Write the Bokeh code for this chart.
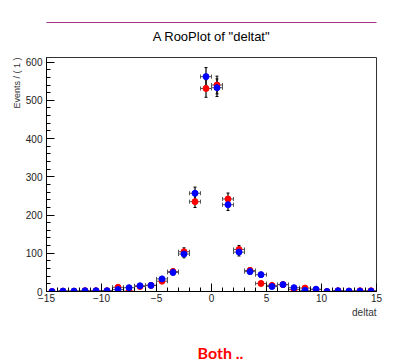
import numpy as np
from bokeh.plotting import figure
from bokeh.models import (ColumnDataSource, Whisker, TeeHead, Title, LinearAxis,
                          SingleIntervalTicker, FixedTicker, Range1d)
from bokeh.embed import file_html
from bokeh.resources import INLINE

# ---- data -------------------------------------------------------------
bin_centers = [-14.5, -13.5, -12.5, -11.5, -10.5, -9.5, -8.5, -7.5, -6.5, -5.5,
               -4.5, -3.5, -2.5, -1.5, -0.5, 0.5, 1.5, 2.5, 3.5, 4.5,
               5.5, 6.5, 7.5, 8.5, 9.5, 10.5, 11.5, 12.5, 13.5, 14.5]
red_counts = [0, 1, 1, 2, 2, 2, 11, 1, 13, 16,
              27, 52, 104, 235, 531, 540, 242, 110, 55, 21,
              16, 18, 5, 9, 5, 0, 2, 1, 2, 2]
blue_counts = [0, 1, 1, 2, 2, 2, 5, 10, 15, 16,
               33, 50, 98, 257, 562, 533, 227, 103, 52, 44,
               13, 18, 10, 3, 6, 0, 2, 1, 1, 1]
bin_half_width = 0.5
x_ticks_interval = 5
y_ticks_interval = 100

title_text = 'A RooPlot of "deltat"'
y_label = "Events / ( 1 )"
x_label = "deltat"
footer = "Both .."

# ---- figure -----------------------------------------------------------
X0, X1 = -15, 15
Y0, Y1 = 0, 612
p = figure(width=406, height=364, output_backend="svg", toolbar_location=None,
           x_range=Range1d(X0, X1), y_range=Range1d(Y0, Y1),
           min_border_left=46, min_border_right=30,
           min_border_top=57, min_border_bottom=73)
p.grid.visible = False
p.outline_line_color = "#333333"
p.outline_line_width = 1
p.background_fill_color = "white"
p.border_fill_color = "white"

for ax, interval in ((p.xaxis[0], x_ticks_interval), (p.yaxis[0], y_ticks_interval)):
    ax.ticker = SingleIntervalTicker(interval=interval, num_minor_ticks=5)
    ax.major_tick_in = 8
    ax.major_tick_out = 0
    ax.minor_tick_in = 4
    ax.minor_tick_out = 0
    ax.axis_line_color = "black"
    ax.major_tick_line_color = "black"
    ax.minor_tick_line_color = "black"
    ax.major_label_text_font = "Liberation Sans"
    ax.major_label_text_font_size = "10px"
    ax.major_label_text_color = "#222222"
p.xaxis.major_label_standoff = 2
p.yaxis.major_label_standoff = 4

def add_series(counts):
    y = np.array(counts, dtype=float)
    err = np.sqrt(y)
    x = np.array(bin_centers)
    src = ColumnDataSource(dict(x=x, y=y, xl=x - bin_half_width, xu=x + bin_half_width,
                                yl=y - err, yu=y + err))
    wx = Whisker(source=src, base="y", lower="xl", upper="xu", dimension="width",
                 line_color="#555555", line_width=1,
                 lower_head=TeeHead(size=4, line_color="#555555", line_width=1),
                 upper_head=TeeHead(size=4, line_color="#555555", line_width=1))
    wy = Whisker(source=src, base="x", lower="yl", upper="yu", dimension="height",
                 line_color="black", line_width=1.2,
                 lower_head=TeeHead(size=3, line_color="black", line_width=1),
                 upper_head=TeeHead(size=3, line_color="black", line_width=1))
    p.add_layout(wx)
    p.add_layout(wy)
    return src

src_r = add_series(red_counts)
src_b = add_series(blue_counts)
p.scatter("x", "y", source=src_r, size=6, color="#ff0000")
p.scatter("x", "y", source=src_b, size=6, color="#0000ff")


def spacer(gap):
    """A blank title used only to reserve vertical space."""
    return Title(text=" ", text_font_size="1px", standoff=max(gap - 1, 0))

rule = LinearAxis(ticker=FixedTicker(ticks=[]), axis_line_color="#a23585",
                  axis_line_width=1, major_tick_in=0, major_tick_out=0,
                  minor_tick_in=0, minor_tick_out=0, major_label_standoff=0)

# ---- above: gap, title, gap, coloured rule ----
p.add_layout(spacer(12), "above")
p.add_layout(Title(text=title_text, align="center", text_font="Liberation Sans",
                   text_font_size="13px", text_font_style="normal",
                   text_color="black", standoff=0), "above")
p.add_layout(spacer(2), "above")
p.add_layout(rule, "above")

# ---- left: y label aligned with the top of the axis ----
p.add_layout(Title(text=y_label, align="right", text_font="Liberation Sans",
                   text_font_size="9px", text_font_style="normal",
                   text_color="#333333", standoff=2), "left")

# ---- below: x label, gap, footer ----
p.add_layout(Title(text=x_label, align="right", text_font="Liberation Sans",
                   text_font_size="10px", text_font_style="normal",
                   text_color="#333333", standoff=0), "below")
p.add_layout(spacer(21), "below")
p.add_layout(Title(text=footer, align="left", offset=151, text_font="Lato",
                   text_font_size="16px", text_font_style="bold",
                   text_color="#ff0000", standoff=0), "below")

open("out.html", "w").write(file_html(p, INLINE))
